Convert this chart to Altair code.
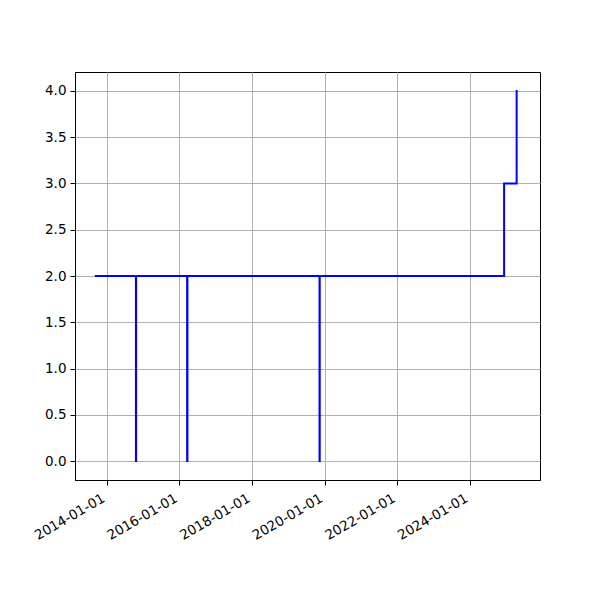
import altair as alt
import pandas as pd

dates = ["2013-09-01", "2014-10-20", "2014-10-22", "2016-03-18", "2016-03-21",
         "2019-11-10", "2019-11-12", "2024-12-10", "2025-04-15", "2025-04-25"]
values = [2, 0, 2, 0, 2, 0, 2, 3, 4, 4]
tick_years = [2014, 2016, 2018, 2020, 2022, 2024]
y_ticks = [0, 0.5, 1, 1.5, 2, 2.5, 3, 3.5, 4]

df = pd.DataFrame({"date": dates, "value": values})

font = "DejaVu Sans"

chart = alt.Chart(df).mark_line(
    interpolate="step-after", color="#0000ff", strokeWidth=2, clip=True
).encode(
    x=alt.X("date:T", title=None,
            scale=alt.Scale(type="utc", domain=[alt.DateTime(year=2013, month=2, date=14, utc=True),
                                                alt.DateTime(year=2025, month=12, date=6, utc=True)], nice=False),
            axis=alt.Axis(values=[alt.DateTime(year=y, month=1, date=1, utc=True) for y in tick_years],
                          format="%Y-%m-%d", labelAngle=-30, labelAlign="right", labelBaseline="top",
                          labelPadding=6, labelOffset=-7, labelOverlap=False, labelFlush=False,
                          tickSize=5, tickColor="black", domainColor="black",
                          labelColor="black", labelFont=font, labelFontSize=13.5, grid=True,
                          gridColor="#b0b0b0", gridWidth=1)),
    y=alt.Y("value:Q", title=None,
            scale=alt.Scale(domain=[-0.205, 4.205], nice=False, zero=False),
            axis=alt.Axis(values=y_ticks, format=".1f", tickSize=5, tickColor="black",
                          domainColor="black", labelColor="black", labelFont=font,
                          labelFontSize=13.5, labelPadding=4, labelOverlap=False, grid=True,
                          gridColor="#b0b0b0", gridWidth=1)),
).properties(
    width=465, height=408,
    background="white",
    autosize=alt.AutoSizeParams(type="none"),
    padding={"left": 67, "top": 64, "right": 52, "bottom": 112},
).configure_view(stroke="black", strokeWidth=1)

chart.save("out.html", embed_options={"renderer": "svg", "actions": False})
